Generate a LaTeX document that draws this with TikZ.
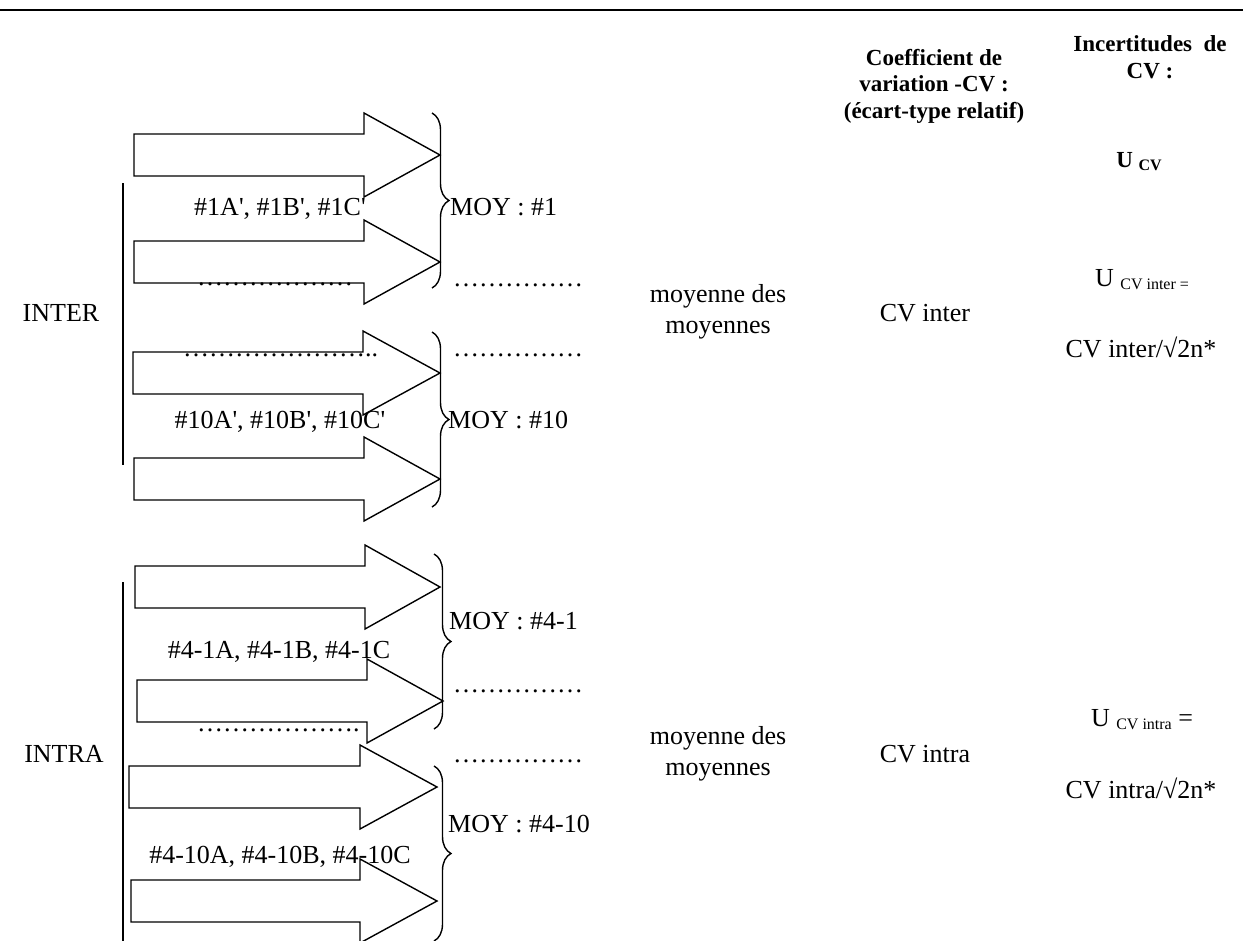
\documentclass[tikz,border=0pt]{standalone}
\usepackage{fontspec}
\newfontfamily\wordfont{Liberation Serif}
\usetikzlibrary{decorations.pathreplacing}
\newcommand\petit[1]{\raisebox{-0.3ex}{\fontsize{16}{16}\selectfont #1}}
\tikzstyle{txt}=[font=\wordfont\fontsize{26}{31}\selectfont, inner sep=0pt, anchor=base]
\tikzstyle{bloc}=[font=\wordfont\fontsize{26}{31}\selectfont, inner sep=0pt, align=center]
\tikzstyle{hdr}=[font=\wordfont\bfseries\fontsize{23}{26.5}\selectfont, inner sep=0pt, align=center]
\tikzstyle{fleche}=[line width=1.4pt, line join=miter]
\tikzstyle{accolade}=[line width=1.4pt, decorate, decoration={brace, amplitude=17pt}]
\tikzstyle{barre}=[line width=2.4pt]

\begin{document}
\begin{tikzpicture}[x=1pt, y=-1pt]
	\useasboundingbox (0,0) rectangle (1247,940);
	\draw[line width=2.4pt] (0,10) -- (1243,10);
	\node[hdr] (coef) at (934,86) {Coefficient de\\variation -CV :\\(écart-type relatif)};
	\node[hdr] (incert) at (1150,57) {Incertitudes\ \ de\\CV :};
	\node[hdr, anchor=base] (ucv) at (1139,167) {U \petit{CV}};
	\draw[barre] (123,183) -- (123,465);
	\draw[barre] (123,582) -- (123,945);
	\node[txt] (inter) at (61,321) {INTER};
	\node[txt] (intra) at (64,762) {INTRA};
	\draw[fleche] (134,134) -- ++(230,0) -- ++(0,-21) -- ++(76,42) -- ++(-76,42) -- ++(0,-21) -- ++(-230,0) -- cycle;
	\draw[fleche] (134,241) -- ++(230,0) -- ++(0,-21) -- ++(76,42) -- ++(-76,42) -- ++(0,-21) -- ++(-230,0) -- cycle;
	\draw[fleche] (133,352) -- ++(230,0) -- ++(0,-21) -- ++(77,42) -- ++(-77,42) -- ++(0,-21) -- ++(-230,0) -- cycle;
	\draw[fleche] (134,458) -- ++(230,0) -- ++(0,-21) -- ++(76,42) -- ++(-76,42) -- ++(0,-21) -- ++(-230,0) -- cycle;
	\draw[fleche] (135,566) -- ++(230,0) -- ++(0,-21) -- ++(75,42) -- ++(-75,42) -- ++(0,-21) -- ++(-230,0) -- cycle;
	\draw[fleche] (137,680) -- ++(230,0) -- ++(0,-21) -- ++(76,42) -- ++(-76,42) -- ++(0,-21) -- ++(-230,0) -- cycle;
	\draw[fleche] (129,766) -- ++(231,0) -- ++(0,-21) -- ++(77,42) -- ++(-77,42) -- ++(0,-21) -- ++(-231,0) -- cycle;
	\draw[fleche] (131,880) -- ++(229,0) -- ++(0,-21) -- ++(77,42) -- ++(-77,42) -- ++(0,-21) -- ++(-229,0) -- cycle;
	\draw[accolade] (432,113) -- (432,288);
	\draw[accolade] (432,332) -- (432,507);
	\draw[accolade] (434,554) -- (434,729);
	\draw[accolade] (434,766) -- (434,941);
	\node[txt] (ech1) at (280,215) {\#1A', \#1B', \#1C'};
	\node[txt] (ech10) at (280,428) {\#10A', \#10B', \#10C'};
	\node[txt] (ech41) at (279,658) {\#4-1A, \#4-1B, \#4-1C};
	\node[txt] (ech410) at (280,863) {\#4-10A, \#4-10B, \#4-10C};
	\node[txt, anchor=base west] (moy1) at (450,215) {MOY : \#1};
	\node[txt, anchor=base west] (moy10) at (448,428) {MOY : \#10};
	\node[txt, anchor=base west] (moy41) at (449,629) {MOY : \#4-1};
	\node[txt, anchor=base west] (moy410) at (448,832) {MOY : \#4-10};
	\node[txt, anchor=base west] (pts1) at (197,285) {………………};
	\node[txt, anchor=base west] (pts2) at (183,356) {…………………..};
	\node[txt, anchor=base west] (pts3) at (197,731) {……………….};
	\node[txt, anchor=base west] (dr1) at (453,286) {……………};
	\node[txt, anchor=base west] (dr2) at (453,356) {……………};
	\node[txt, anchor=base west] (dr3) at (453,692) {……………};
	\node[txt, anchor=base west] (dr4) at (453,762) {……………};
	\node[bloc] (moymoy1) at (718,312) {moyenne des\\moyennes};
	\node[bloc] (moymoy2) at (718,754) {moyenne des\\moyennes};
	\node[txt] (cvinter) at (925,321) {CV inter};
	\node[txt] (cvintra) at (925,762) {CV intra};
	\node[txt] (uinter) at (1142,286) {U \petit{CV inter =}};
	\node[txt] (finter) at (1141,357) {CV inter/√2n*};
	\node[txt] (uintra) at (1142,726) {U \petit{CV intra} =};
	\node[txt] (fintra) at (1141,798) {CV intra/√2n*};
\end{tikzpicture}
\end{document}
